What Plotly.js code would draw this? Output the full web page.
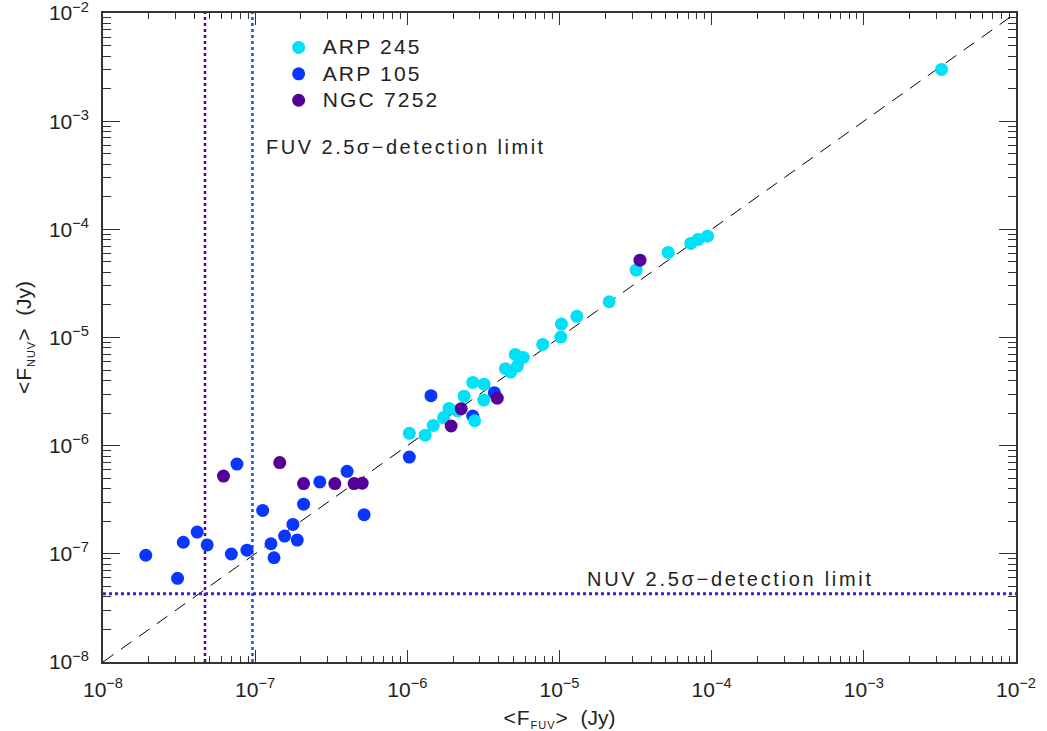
<!DOCTYPE html>
<html><head><meta charset="utf-8">
<script src="https://cdn.plot.ly/plotly-3.0.1.min.js"></script>
<style>body{margin:0;background:#fff}#c{width:1047px;height:731px}</style>
</head><body><div id="c"></div>
<script>
// ARP 245
const arp245_fuv = [1.03e-6,1.31e-6,1.48e-6,1.73e-6,1.88e-6,2.14e-6,2.36e-6,2.69e-6,3.19e-6,3.18e-6,2.77e-6,4.41e-6,4.78e-6,5.12e-6,5.78e-6,5.29e-6,7.76e-6,1.02e-5,1.03e-5,1.30e-5,2.12e-5,3.19e-5,5.18e-5,7.28e-5,8.15e-5,9.39e-5,3.24e-3];
const arp245_nuv = [1.30e-6,1.25e-6,1.54e-6,1.82e-6,2.21e-6,2.10e-6,2.87e-6,3.84e-6,3.70e-6,2.64e-6,1.70e-6,5.15e-6,4.79e-6,6.98e-6,6.55e-6,5.44e-6,8.63e-6,1.01e-5,1.33e-5,1.57e-5,2.14e-5,4.20e-5,6.12e-5,7.41e-5,8.07e-5,8.65e-5,3.01e-3];
// ARP 105
const arp105_fuv = [1.91e-8,3.09e-8,3.37e-8,4.16e-8,4.84e-8,7.59e-8,6.97e-8,8.83e-8,1.12e-7,1.27e-7,1.33e-7,1.56e-7,1.77e-7,1.89e-7,2.08e-7,2.66e-7,4.02e-7,5.20e-7,1.03e-6,1.43e-6,2.69e-6,3.73e-6];
const arp105_nuv = [9.7e-8,5.94e-8,1.28e-7,1.59e-7,1.21e-7,6.76e-7,9.96e-8,1.08e-7,2.52e-7,1.24e-7,9.2e-8,1.46e-7,1.87e-7,1.34e-7,2.88e-7,4.62e-7,5.79e-7,2.30e-7,7.85e-7,2.90e-6,1.88e-6,3.09e-6];
// NGC 7252
const ngc7252_fuv = [6.19e-8,1.45e-7,2.08e-7,3.34e-7,4.47e-7,5.05e-7,2.26e-6,1.94e-6,3.90e-6,3.38e-5];
const ngc7252_nuv = [5.24e-7,6.97e-7,4.46e-7,4.46e-7,4.46e-7,4.50e-7,2.20e-6,1.52e-6,2.75e-6,5.19e-5];
const seriesNames = ['ARP 245','ARP 105','NGC 7252'];
// reference lines
const oneToOne = [1e-8,1e-2];
const fuvLimitNGC = 4.68e-8;
const fuvLimitARP = 9.6e-8;
const nuvLimit = 4.28e-8;
const axisRange = [1e-8,1e-2];
// ticks
const majorTicks = [1e-8,1e-7,1e-6,1e-5,1e-4,1e-3,1e-2];
const majorTickText = ['10<sup>−8</sup>','10<sup>−7</sup>','10<sup>−6</sup>','10<sup>−5</sup>','10<sup>−4</sup>','10<sup>−3</sup>','10<sup>−2</sup>'];

const minorTicks=[];
for(let d=-8; d<-2; d++){ for(let m=2;m<10;m++){ minorTicks.push(m*Math.pow(10,d)); } }

const cyan='#00E1F7', blue='#0A37FF', purple='#550099';
const FONT="Liberation Sans, Arial, sans-serif";
const TXT='#222';
const MS=13;
const sp=(t,ls,fs)=>'<span style="letter-spacing:'+ls+'px'+(fs?';font-size:'+fs+'px':'')+'">'+t+'</span>';

const traces=[
 {x:oneToOne,y:oneToOne,mode:'lines',line:{color:'#000',width:1,dash:'13px,9px'},showlegend:false,hoverinfo:'skip'},
 {x:[fuvLimitNGC,fuvLimitNGC],y:axisRange,mode:'lines',line:{color:purple,width:2.5,dash:'dot'},showlegend:false},
 {x:[fuvLimitARP,fuvLimitARP],y:axisRange,mode:'lines',line:{color:'#1F4BFF',width:2.5,dash:'dot'},showlegend:false},
 {x:axisRange,y:[nuvLimit,nuvLimit],mode:'lines',line:{color:'#3A22D0',width:3,dash:'dot'},showlegend:false},
 {x:arp105_fuv,y:arp105_nuv,mode:'markers',name:sp(seriesNames[1],2.2,21),legendrank:2,marker:{color:blue,size:MS}},
 {x:arp245_fuv,y:arp245_nuv,mode:'markers',name:sp(seriesNames[0],2.2,21),legendrank:1,marker:{color:cyan,size:MS}},
 {x:ngc7252_fuv,y:ngc7252_nuv,mode:'markers',name:sp(seriesNames[2],2.2,21),legendrank:3,marker:{color:purple,size:MS}},
 {x:[1e-8],y:[1e-8],xaxis:'x2',yaxis:'y2',mode:'markers',marker:{opacity:0},showlegend:false,hoverinfo:'skip'}
];

const base={type:'log',range:[-8,-2],showgrid:false,zeroline:false,ticks:'inside',tickcolor:'#333',tickwidth:1.2};
const ax=Object.assign({},base,{showline:true,linecolor:'#333',linewidth:1.5,mirror:'ticks',
 tickmode:'array',tickvals:majorTicks,ticktext:majorTickText,ticklabeloverflow:'allow',
 tickfont:{family:FONT,size:21,color:TXT},ticklabelstandoff:8});
const mx=Object.assign({},base,{tickmode:'array',tickvals:minorTicks,showticklabels:false,showline:false,mirror:'ticks'});

const layout={
 width:1047,height:731,margin:{l:103,r:31,t:13,b:69},
 paper_bgcolor:'#fff',plot_bgcolor:'#fff',
 font:{family:FONT,color:TXT},
 xaxis:Object.assign({},ax,{ticklen:12,title:{text:sp('&lt;F<sub><span style="font-size:11px">FUV</span></sub>&gt;',1)+'  (Jy)',font:{family:FONT,size:21,color:TXT},standoff:10}}),
 yaxis:Object.assign({},ax,{ticklen:17,title:{text:sp('&lt;F<sub><span style="font-size:11px">NUV</span></sub>&gt;',1)+'  (Jy)',font:{family:FONT,size:21,color:TXT},standoff:12}}),
 xaxis2:Object.assign({},mx,{ticklen:6,overlaying:'x',anchor:'y2'}),
 yaxis2:Object.assign({},mx,{ticklen:8,overlaying:'y',anchor:'x2'}),
 legend:{x:0.188,y:0.975,xanchor:'left',yanchor:'top',bgcolor:'rgba(0,0,0,0)',font:{family:FONT,size:18,color:TXT},tracegroupgap:0,itemwidth:38},
 annotations:[
  {xref:'paper',yref:'paper',x:0.1765,y:0.794,xanchor:'left',yanchor:'middle',showarrow:false,text:sp('FUV 2.5σ−detection limit',2.5),font:{family:FONT,size:20,color:TXT}},
  {xref:'paper',yref:'paper',x:0.528,y:0.1274,xanchor:'left',yanchor:'middle',showarrow:false,text:sp('NUV 2.5σ−detection limit',2.7),font:{family:FONT,size:20,color:TXT}}
 ]
};
Plotly.newPlot('c',traces,layout,{displayModeBar:false});
</script></body></html>
